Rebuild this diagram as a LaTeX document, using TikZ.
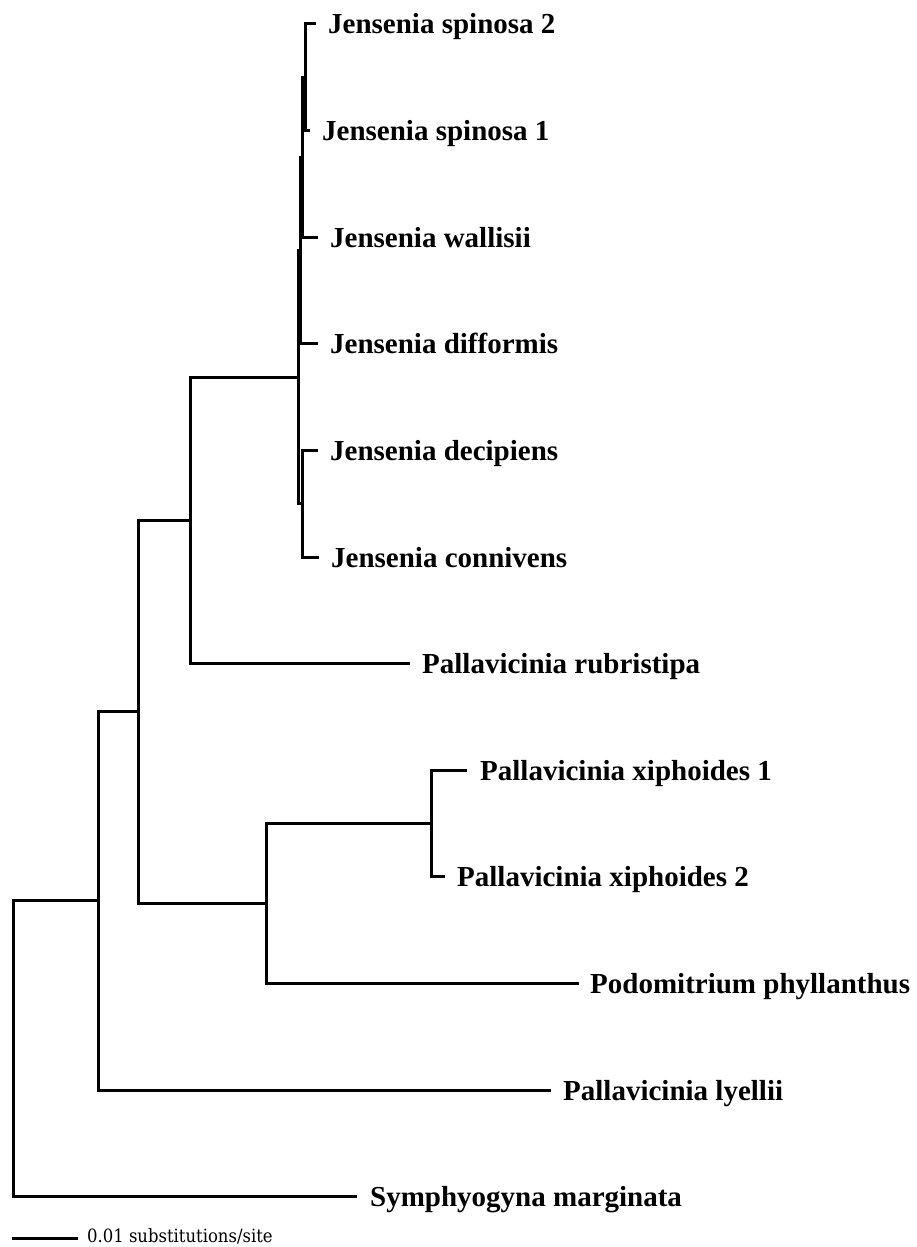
\documentclass[tikz,border=0pt]{standalone}
\usepackage{fontspec}
\setmainfont{Liberation Serif}
\newfontfamily\scalefont{DejaVu Serif Condensed}
\begin{document}
\begin{tikzpicture}[x=1pt,y=-1pt,
  branch/.style={line width=3pt,line cap=rect,line join=miter},
  taxon/.style={anchor=base west,inner sep=0pt,font=\fontsize{29}{29}\selectfont\bfseries},
  scaletxt/.style={anchor=west,inner sep=0pt,font=\scalefont\fontsize{18.3}{18.3}\selectfont}]
\useasboundingbox (0,0) rectangle (916,1247);
% internal nodes
\coordinate (J4) at (305,77.3);
\coordinate (J3) at (302,157.25);
\coordinate (J2) at (300,250.5);
\coordinate (J1) at (302,503.7);
\coordinate (J0) at (298,377.1);
\coordinate (A) at (190,520.35);
\coordinate (X) at (431,823.5);
\coordinate (P) at (266,903.45);
\coordinate (B) at (138,711.9);
\coordinate (C) at (98,900.95);
\coordinate (R) at (13,1048.8);
% tips
\coordinate (sp2) at (314,24);
\coordinate (sp1) at (308,130.6);
\coordinate (wal) at (316,237.2);
\coordinate (dif) at (316,343.8);
\coordinate (dec) at (316,450.4);
\coordinate (con) at (317,557);
\coordinate (rub) at (408,663.6);
\coordinate (xi1) at (465,770.2);
\coordinate (xi2) at (443,876.8);
\coordinate (pod) at (577,983.4);
\coordinate (lye) at (549,1090);
\coordinate (sym) at (355,1196.6);
% branches
\draw[branch] (sp2) -| (J4) |- (sp1);
\draw[branch] (J4) -| (J3) |- (wal);
\draw[branch] (J3) -| (J2) |- (dif);
\draw[branch] (dec) -| (J1) |- (con);
\draw[branch] (J2) -| (J0) |- (J1);
\draw[branch] (J0) -| (A) |- (rub);
\draw[branch] (xi1) -| (X) |- (xi2);
\draw[branch] (X) -| (P) |- (pod);
\draw[branch] (A) -| (B) |- (P);
\draw[branch] (B) -| (C) |- (lye);
\draw[branch] (C) -| (R) |- (sym);
% labels
\node[taxon] (lsp2) at (328,34) {Jensenia spinosa 2};
\node[taxon] (lsp1) at (322,140.6) {Jensenia spinosa 1};
\node[taxon] (lwal) at (330,247.2) {Jensenia wallisii};
\node[taxon] (ldif) at (330,353.8) {Jensenia difformis};
\node[taxon] (ldec) at (330,460.4) {Jensenia decipiens};
\node[taxon] (lcon) at (331,567) {Jensenia connivens};
\node[taxon] (lrub) at (422,673.6) {Pallavicinia rubristipa};
\node[taxon] (lxi1) at (480,780.2) {Pallavicinia xiphoides 1};
\node[taxon] (lxi2) at (457,886.8) {Pallavicinia xiphoides 2};
\node[taxon] (lpod) at (590,993.4) {Podomitrium phyllanthus};
\node[taxon] (llye) at (563,1100) {Pallavicinia lyellii};
\node[taxon] (lsym) at (370,1206.6) {Symphyogyna marginata};
% scale bar
\coordinate (sb1) at (12,1238);
\coordinate (sb2) at (78,1238);
\draw[line width=3pt] (sb1) -- (sb2);
\node[scaletxt] (sbl) at (87,1236) {0.01 substitutions/site};
\end{tikzpicture}
\end{document}
